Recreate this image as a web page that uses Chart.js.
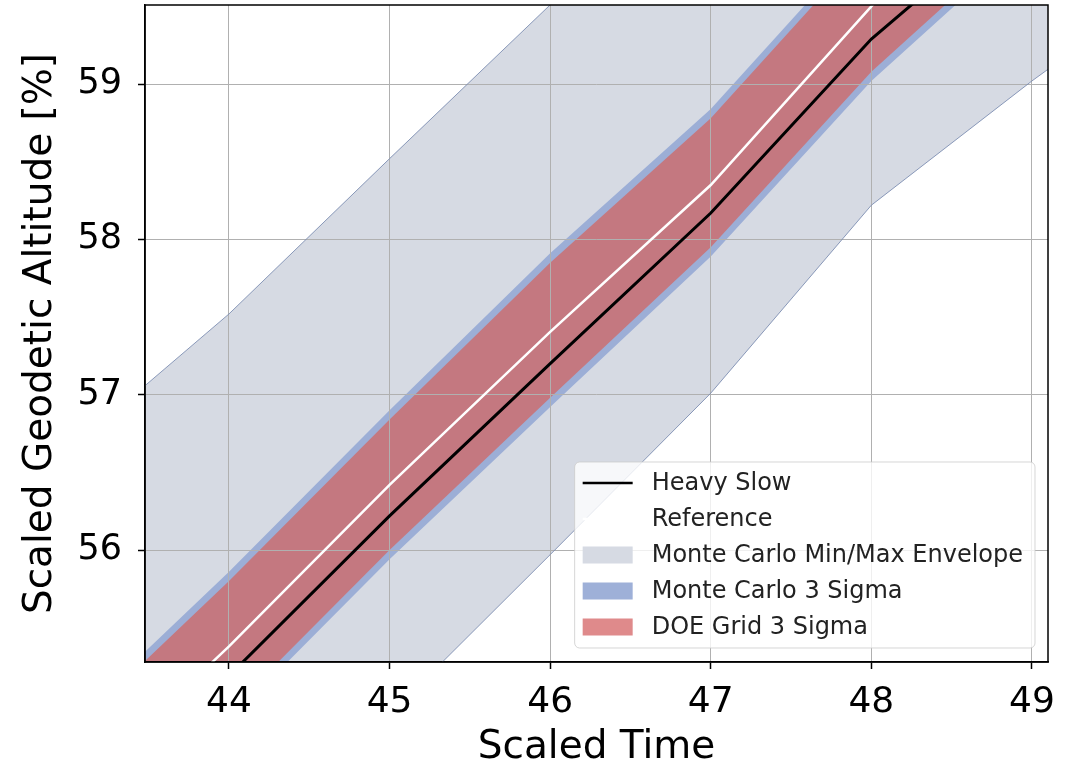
<!DOCTYPE html>
<html>
<head>
<meta charset="utf-8">
<script src="https://cdn.jsdelivr.net/npm/chart.js@4.4.1/dist/chart.umd.min.js"></script>
<style>
  html, body { margin: 0; padding: 0; background: #fff; }
  #wrap { width: 1077px; height: 771px; }
</style>
</head>
<body>
<div id="wrap"><canvas id="chart" width="1077" height="771"></canvas></div>
<script>
// values
const envX = [43.4, 44, 45, 46, 47, 48, 49, 49.2];
const envUpper = [56.99, 57.52, 58.52, 59.51, 60.5, 61.5, 62.5, 62.7];
const envLower = [52.5, 53.6, 54.94, 55.97, 57.01, 58.22, 59.02, 59.17];

const bandX = [43.4, 44, 45, 46, 47, 48, 49.2];
const mcUpper = [55.27, 55.86, 56.90, 57.91, 58.84, 59.98, 61.16];
const mcLower = [54.31, 54.90, 55.94, 56.92, 57.89, 59.02, 60.14];
const doeUpper = [55.21, 55.80, 56.84, 57.85, 58.78, 59.92, 61.10];
const doeLower = [54.37, 54.96, 56.00, 56.98, 57.95, 59.08, 60.20];

const refX = [43.4, 44, 45, 46, 47, 48, 49];
const refY = [54.79, 55.38, 56.42, 57.405, 58.35, 59.50, 60.60];

const slowX = [43.4, 44, 45, 46, 47, 48, 48.25, 48.6];
const slowY = [54.53, 55.19, 56.22, 57.20, 58.17, 59.29, 59.51, 59.80];

const xTicks = [44, 45, 46, 47, 48, 49];
const yTicks = [56, 57, 58, 59];

const FONT = "'DejaVu Sans', 'Liberation Sans', sans-serif";
const GRID = '#b0b0b0';
const ENV_FILL = '#d6dae3';
const ENV_EDGE = 'rgba(120, 138, 175, 0.85)';
const MC_FILL = '#9caed6';
const DOE_FILL = 'rgba(211, 100, 96, 0.73)';

const pts = (xs, ys) => xs.map((x, i) => ({ x, y: ys[i] }));

// legend entries (drawn inside the plot, lower right)
const legendEntries = [
    { label: 'Heavy Slow', kind: 'line', color: '#000000' },
    { label: 'Reference', kind: 'line', color: '#ffffff' },
    { label: 'Monte Carlo Min/Max Envelope', kind: 'patch', color: '#d6dae3' },
    { label: 'Monte Carlo 3 Sigma', kind: 'patch', color: '#9eb0d8' },
    { label: 'DOE Grid 3 Sigma', kind: 'patch', color: '#df8a8b' }
];

const boxLegend = {
    id: 'boxLegend',
    afterDraw(chart) {
        const { ctx, chartArea } = chart;
        ctx.save();
        ctx.font = '24px ' + FONT;
        const textW = Math.max(...legendEntries.map(e => ctx.measureText(e.label).width));
        const w = 77 + textW + 12;
        const h = 186;
        const x0 = chartArea.right - 13 - w;
        const y0 = chartArea.bottom - 14 - h;

        ctx.beginPath();
        ctx.roundRect(x0, y0, w, h, 5);
        ctx.fillStyle = 'rgba(255,255,255,0.8)';
        ctx.fill();
        ctx.strokeStyle = 'rgba(204,204,204,0.8)';
        ctx.lineWidth = 1;
        ctx.stroke();

        ctx.textBaseline = 'middle';
        ctx.textAlign = 'left';
        legendEntries.forEach((e, i) => {
            const cy = y0 + 21 + i * 36;
            if (e.kind === 'line') {
                ctx.beginPath();
                ctx.moveTo(x0 + 8, cy);
                ctx.lineTo(x0 + 58, cy);
                ctx.strokeStyle = e.color;
                ctx.lineWidth = 2.5;
                ctx.stroke();
            } else {
                ctx.fillStyle = e.color;
                ctx.fillRect(x0 + 8, cy - 8.5, 50, 17);
            }
            ctx.fillStyle = '#222';
            ctx.fillText(e.label, x0 + 77, cy + 1);
        });
        ctx.restore();
    }
};

// top/right spines like a boxed axes
const frame = {
    id: 'frame',
    afterDatasetsDraw(chart) {
        const { ctx, chartArea: a } = chart;
        ctx.save();
        ctx.strokeStyle = '#000';
        ctx.lineWidth = 1.5;
        ctx.strokeRect(a.left, a.top, a.right - a.left, a.bottom - a.top);
        ctx.restore();
    }
};

const base = { pointRadius: 0, tension: 0, borderWidth: 0 };

new Chart(document.getElementById('chart'), {
    type: 'line',
    data: {
        datasets: [
            // lines first so no fill ever targets dataset index 0
            { ...base, label: 'Heavy Slow', data: pts(slowX, slowY), borderColor: '#000000', borderWidth: 3, fill: false, order: 1 },
            { ...base, label: 'Reference', data: pts(refX, refY), borderColor: '#ffffff', borderWidth: 2.5, fill: false, order: 2 },
            { ...base, label: 'Envelope Min', data: pts(envX, envLower), borderColor: ENV_EDGE, borderWidth: 1, fill: false, order: 10 },
            { ...base, label: 'Monte Carlo Min/Max Envelope', data: pts(envX, envUpper), borderColor: ENV_EDGE, borderWidth: 1, backgroundColor: ENV_FILL, fill: '-1', order: 10 },
            { ...base, label: 'MC 3 Sigma Low', data: pts(bandX, mcLower), borderColor: 'transparent', fill: false, order: 8 },
            { ...base, label: 'Monte Carlo 3 Sigma', data: pts(bandX, mcUpper), borderColor: 'transparent', backgroundColor: MC_FILL, fill: '-1', order: 8 },
            { ...base, label: 'DOE 3 Sigma Low', data: pts(bandX, doeLower), borderColor: 'transparent', fill: false, order: 6 },
            { ...base, label: 'DOE Grid 3 Sigma', data: pts(bandX, doeUpper), borderColor: 'transparent', backgroundColor: DOE_FILL, fill: '-1', order: 6 }
        ]
    },
    options: {
        responsive: false,
        animation: false,
        layout: { padding: { top: 5, right: 29, left: 0, bottom: 0 } },
        plugins: {
            legend: { display: false },
            tooltip: { enabled: false },
            filler: { drawTime: 'beforeDraw', propagate: false }
        },
        scales: {
            x: {
                type: 'linear',
                min: 43.477,
                max: 49.1,
                afterBuildTicks: s => { s.ticks = xTicks.map(v => ({ value: v })); },
                afterFit: s => { s.height = 109; s.paddingLeft = 0; s.paddingRight = 0; },
                grid: { color: GRID, lineWidth: 1, tickColor: '#000', tickLength: 7, tickWidth: 1.5 },
                border: { color: '#000', width: 1.5 },
                ticks: { color: '#000', font: { family: FONT, size: 36 }, padding: 12, maxRotation: 0, autoSkip: false },
                title: { display: true, text: 'Scaled Time', color: '#000', font: { family: FONT, size: 39, lineHeight: 1 }, padding: { top: 0, bottom: 4 } }
            },
            y: {
                type: 'linear',
                min: 55.279,
                max: 59.509,
                afterBuildTicks: s => { s.ticks = yTicks.map(v => ({ value: v })); },
                afterFit: s => { s.width = 145; s.paddingTop = 0; s.paddingBottom = 0; },
                grid: { color: GRID, lineWidth: 1, tickColor: '#000', tickLength: 7, tickWidth: 1.5 },
                border: { color: '#000', width: 1.5 },
                ticks: { color: '#000', font: { family: FONT, size: 35 }, padding: 16, autoSkip: false },
                title: { display: true, text: 'Scaled Geodetic Altitude [%]', color: '#000', font: { family: FONT, size: 39, lineHeight: 1 }, padding: { top: 21, bottom: 0 } }
            }
        }
    },
    plugins: [frame, boxLegend]
});
</script>
</body>
</html>
